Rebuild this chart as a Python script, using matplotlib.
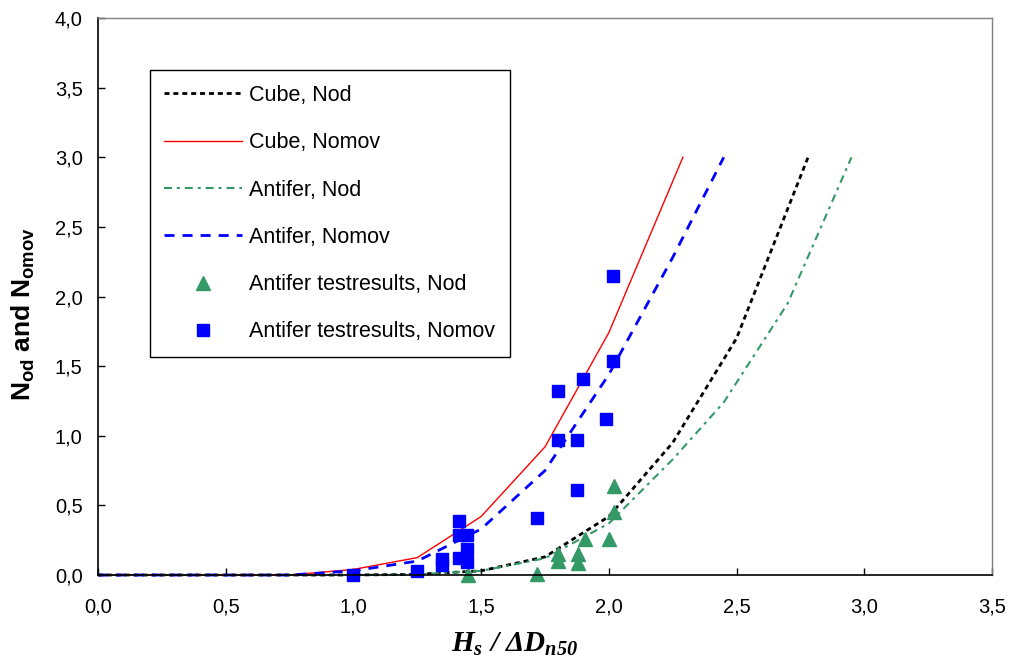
import matplotlib
matplotlib.use("Agg")
import matplotlib.pyplot as plt
from matplotlib.ticker import FuncFormatter

plt.rcParams["font.family"] = ["Liberation Sans", "DejaVu Sans"]
plt.rcParams["mathtext.fontset"] = "custom"
plt.rcParams["mathtext.it"] = "Liberation Serif:italic:bold"
plt.rcParams["mathtext.rm"] = "Liberation Serif:italic:bold"
plt.rcParams["mathtext.sf"] = "Liberation Sans:bold"

# Design curves (stability number vs. damage)
cube_nod_x = [0.0, 0.75, 1.0, 1.25, 1.5, 1.75, 2.0, 2.25, 2.5, 2.78]
cube_nod_y = [0.0, 0.0, 0.0, 0.005, 0.03, 0.13, 0.42, 0.95, 1.70, 3.0]

cube_nomov_x = [0.0, 0.75, 1.0, 1.25, 1.5, 1.75, 2.0, 2.29]
cube_nomov_y = [0.0, 0.0, 0.04, 0.125, 0.42, 0.92, 1.74, 3.0]

antifer_nod_x = [0.0, 0.75, 1.0, 1.25, 1.5, 1.75, 2.0, 2.25, 2.45, 2.7, 2.95]
antifer_nod_y = [0.0, 0.0, 0.0, 0.005, 0.03, 0.12, 0.37, 0.83, 1.24, 1.95, 3.0]

antifer_nomov_x = [0.0, 0.75, 1.0, 1.25, 1.5, 1.75, 2.0, 2.25, 2.45]
antifer_nomov_y = [0.0, 0.0, 0.03, 0.10, 0.33, 0.75, 1.44, 2.28, 3.0]

# Model test results
test_nod_x = [1.45, 1.72, 1.80, 1.80, 1.88, 1.88, 1.905, 2.0, 2.02, 2.02]
test_nod_y = [0.0, 0.01, 0.15, 0.10, 0.15, 0.085, 0.26, 0.26, 0.45, 0.64]

test_nomov_x = [1.00, 1.25, 1.345, 1.345, 1.415, 1.415, 1.415, 1.445, 1.445, 1.445,
                1.72, 1.80, 1.80, 1.875, 1.875, 1.90, 1.99, 2.015, 2.015]
test_nomov_y = [0.00, 0.03, 0.075, 0.115, 0.39, 0.29, 0.12, 0.29, 0.19, 0.09,
                0.41, 1.32, 0.97, 0.97, 0.61, 1.41, 1.12, 1.54, 2.15]

x_ticks = [0.0, 0.5, 1.0, 1.5, 2.0, 2.5, 3.0, 3.5]
y_ticks = [0.0, 0.5, 1.0, 1.5, 2.0, 2.5, 3.0, 3.5, 4.0]

GREEN = "#339966"
BLUE = "#0000FF"

fig = plt.figure(figsize=(10.12, 6.67), dpi=100)
ax = fig.add_axes([0.0968, 0.1379, 0.8834, 0.8351])

ax.plot(cube_nod_x, cube_nod_y, color="black", lw=2.0,
        linestyle=(0, (1.8, 1.4)), label="Cube, Nod", clip_on=False)
ax.plot(cube_nomov_x, cube_nomov_y, color="#FF0000", lw=1.0,
        linestyle="-", label="Cube, Nomov", clip_on=False)
ax.plot(antifer_nod_x, antifer_nod_y, color=GREEN, lw=1.5,
        linestyle=(0, (3.8, 2.4, 1.4, 2.4)), label="Antifer, Nod", clip_on=False)
ax.plot(antifer_nomov_x, antifer_nomov_y, color=BLUE, lw=2.0,
        linestyle=(0, (3.6, 2.9)), label="Antifer, Nomov", clip_on=False)
ax.plot(test_nod_x, test_nod_y, linestyle="none", marker="^", ms=10,
        color=GREEN, mec=GREEN, label="Antifer testresults, Nod", clip_on=False)
ax.plot(test_nomov_x, test_nomov_y, linestyle="none", marker="s", ms=8.5,
        color=BLUE, mec=BLUE, label="Antifer testresults, Nomov", clip_on=False)

ax.set_xlim(0, 3.5)
ax.set_ylim(0, 4.0)
ax.set_xticks(x_ticks)
ax.set_yticks(y_ticks)
comma = FuncFormatter(lambda v, p: f"{v:.1f}".replace(".", ","))
ax.xaxis.set_major_formatter(comma)
ax.yaxis.set_major_formatter(comma)
ax.tick_params(axis="x", direction="in", length=5, width=1, labelsize=14.5, pad=16)
ax.tick_params(axis="y", direction="in", length=5, width=1, labelsize=14.5, pad=11)

for side in ("left", "bottom"):
    ax.spines[side].set_color("black")
    ax.spines[side].set_linewidth(1.2)
for side in ("top", "right"):
    ax.spines[side].set_color("#808080")
    ax.spines[side].set_linewidth(1.0)

ax.set_ylabel(r"$\mathsf{N_{od}\ and\ N_{omov}}$", fontsize=19)
ax.yaxis.set_label_coords(-0.068, 0.469)
ax.set_xlabel(r"$H_{s}\ /\ \Delta D_{n50}$", fontsize=21)
ax.xaxis.set_label_coords(0.466, -0.098)

leg = ax.legend(loc="upper left", bbox_to_anchor=(0.058, 0.906),
                fontsize=15.5, frameon=True, fancybox=False, framealpha=1,
                edgecolor="black", handlelength=3.6, handletextpad=0.33,
                labelspacing=1.22, borderpad=0.68, borderaxespad=0.0)
leg.get_frame().set_linewidth(1.0)

fig.savefig("out.png", dpi=100)
